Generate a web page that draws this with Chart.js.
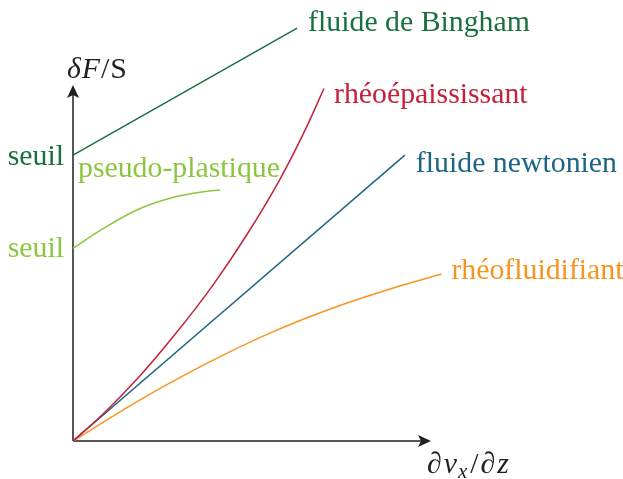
<!DOCTYPE html>
<html>
<head>
<meta charset="utf-8">
<script src="https://cdn.jsdelivr.net/npm/chart.js@4"></script>
<style>
  body { margin: 0; background: #ffffff; }
  canvas { display: block; }
</style>
</head>
<body>
<canvas id="rheo" width="623" height="479"></canvas>
<script>
// Shear rate (x) and stress (y) in arbitrary units.
// The axes go from 0 to 10 in both directions.
var binghamX = [0, 6.26];
var binghamY = [8.03, 11.6];
var thickX = [0, 0.84, 1.79, 2.79, 3.91, 4.86, 5.78, 6.53, 7.01];
var thickY = [0, 0.76, 1.74, 2.92, 4.38, 5.8, 7.35, 8.83, 9.9];
var newtonX = [0, 9.27];
var newtonY = [0, 8.03];
var thinX = [0, 1.78, 3.64, 5.5, 7.36, 9.22, 10.29];
var thinY = [0, 1.1, 2.13, 3.03, 3.77, 4.38, 4.69];
var pseudoX = [0, 0.85, 1.78, 2.71, 3.64, 4.11];
var pseudoY = [5.41, 5.97, 6.49, 6.82, 7.0, 7.05];

var curveNames = ["fluide de Bingham", "rhéoépaississant", "fluide newtonien", "rhéofluidifiant", "pseudo-plastique"];
var thresholdLabel = "seuil";

var BINGHAM = "#19703f";
var THICK = "#c4213a";
var NEWTON = "#1d6582";
var THIN = "#f7941d";
var PSEUDO = "#8cc63f";
var AXIS = "#231f20";
var FONT = "'Liberation Serif', 'Times New Roman', serif";

// Size the text so that "fluide de Bingham" is about 222px wide, as in the sketch.
function pickSize() {
    var ctx = document.createElement("canvas").getContext("2d");
    ctx.font = "100px " + FONT;
    var w = ctx.measureText(curveNames[0]).width;
    return Math.max(20, Math.min(32, Math.round(222 / w * 1000) / 10));
}
var SIZE = pickSize();

// Zip two arrays into {x, y} points for the scatter/line datasets.
function pts(xs, ys) {
    var out = [];
    for (var i = 0; i < xs.length; i++) {
        out.push({ x: xs[i], y: ys[i] });
    }
    return out;
}

function curve(label, xs, ys, color) {
    return {
        label: label,
        data: pts(xs, ys),
        showLine: true,
        borderColor: color,
        borderWidth: 1.5,
        pointRadius: 0,
        cubicInterpolationMode: "monotone",
        clip: false
    };
}

// Arrow head with a slightly hollow back, like the LaTeX stealth tip.
function arrowHead(ctx, tx, ty, dx, dy) {
    var len = 13, half = 6, notch = 3;
    var px = -dy, py = dx;
    ctx.beginPath();
    ctx.moveTo(tx, ty);
    ctx.lineTo(tx - dx * len + px * half, ty - dy * len + py * half);
    ctx.lineTo(tx - dx * (len - notch), ty - dy * (len - notch));
    ctx.lineTo(tx - dx * len - px * half, ty - dy * len - py * half);
    ctx.closePath();
    ctx.fill();
}

// Draws the two arrows of the axes, before the curves.
var axesPlugin = {
    id: "axes",
    beforeDatasetsDraw: function(chart) {
        var ctx = chart.ctx;
        var a = chart.chartArea;
        var x0 = chart.scales.x.getPixelForValue(0);
        var y0 = chart.scales.y.getPixelForValue(0);
        ctx.save();
        ctx.strokeStyle = AXIS;
        ctx.fillStyle = AXIS;
        ctx.lineWidth = 1.5;
        ctx.beginPath();
        ctx.moveTo(x0, y0);
        ctx.lineTo(a.right - 10, y0);
        ctx.moveTo(x0, y0);
        ctx.lineTo(x0, a.top + 10);
        ctx.stroke();
        arrowHead(ctx, a.right, y0, 1, 0);
        arrowHead(ctx, x0, a.top, 0, -1);
        ctx.restore();
    }
};

// Writes a run of text pieces, each with its own style, one after the other.
function runText(ctx, x, y, pieces) {
    for (var i = 0; i < pieces.length; i++) {
        var p = pieces[i];
        ctx.font = p.font;
        ctx.fillText(p.t, x, y + (p.dy || 0));
        x += ctx.measureText(p.t).width + (p.gap || 0);
    }
}

// Curve names, threshold labels and axis titles.
var labelsPlugin = {
    id: "labels",
    afterDatasetsDraw: function(chart) {
        var ctx = chart.ctx;
        var sx = chart.scales.x, sy = chart.scales.y;
        var rm = SIZE + "px " + FONT;
        var it = "italic " + SIZE + "px " + FONT;
        ctx.save();
        ctx.textAlign = "left";
        ctx.textBaseline = "alphabetic";
        ctx.font = rm;

        // names near the end of each curve
        var ends = [
            [binghamX, binghamY, BINGHAM, 11, 3],
            [thickX, thickY, THICK, 10, 14],
            [newtonX, newtonY, NEWTON, 11, 17],
            [thinX, thinY, THIN, 10, 5]
        ];
        for (var i = 0; i < ends.length; i++) {
            var e = ends[i];
            var n = e[0].length - 1;
            ctx.fillStyle = e[2];
            ctx.fillText(curveNames[i], sx.getPixelForValue(e[0][n]) + e[3], sy.getPixelForValue(e[1][n]) + e[4]);
        }
        ctx.fillStyle = PSEUDO;
        ctx.fillText(curveNames[4], sx.getPixelForValue(0) + 5, sy.getPixelForValue(pseudoY[0]) - 71);

        // thresholds on the y axis
        ctx.textAlign = "right";
        ctx.fillStyle = BINGHAM;
        ctx.fillText(thresholdLabel, sx.getPixelForValue(0) - 9, sy.getPixelForValue(binghamY[0]) + 10);
        ctx.fillStyle = PSEUDO;
        ctx.fillText(thresholdLabel, sx.getPixelForValue(0) - 9, sy.getPixelForValue(pseudoY[0]) + 9);

        // axis titles
        ctx.textAlign = "left";
        ctx.fillStyle = AXIS;
        runText(ctx, 67, 78, [
            { t: "δ", font: it, gap: 1 },
            { t: "F", font: it, gap: 1 },
            { t: "/", font: rm, gap: 1 },
            { t: "S", font: rm }
        ]);
        runText(ctx, 427, 473, [
            { t: "∂", font: rm, gap: 2 },
            { t: "v", font: it, gap: 1 },
            { t: "x", font: "italic " + Math.round(SIZE * 0.7) + "px " + FONT, dy: 5, gap: 3 },
            { t: "/", font: rm, gap: 2 },
            { t: "∂", font: rm, gap: 2 },
            { t: "z", font: it }
        ]);
        ctx.restore();
    }
};

new Chart(document.getElementById("rheo"), {
    type: "scatter",
    data: {
        datasets: [
            curve(curveNames[0], binghamX, binghamY, BINGHAM),
            curve(curveNames[1], thickX, thickY, THICK),
            curve(curveNames[2], newtonX, newtonY, NEWTON),
            curve(curveNames[3], thinX, thinY, THIN),
            curve(curveNames[4], pseudoX, pseudoY, PSEUDO)
        ]
    },
    options: {
        responsive: false,
        devicePixelRatio: 1,
        animation: false,
        layout: { padding: { left: 73, right: 192, top: 85, bottom: 38 } },
        scales: {
            x: { type: "linear", min: 0, max: 10, display: false },
            y: { type: "linear", min: 0, max: 10, display: false }
        },
        plugins: {
            legend: { display: false },
            tooltip: { enabled: false }
        }
    },
    plugins: [axesPlugin, labelsPlugin]
});
</script>
</body>
</html>
